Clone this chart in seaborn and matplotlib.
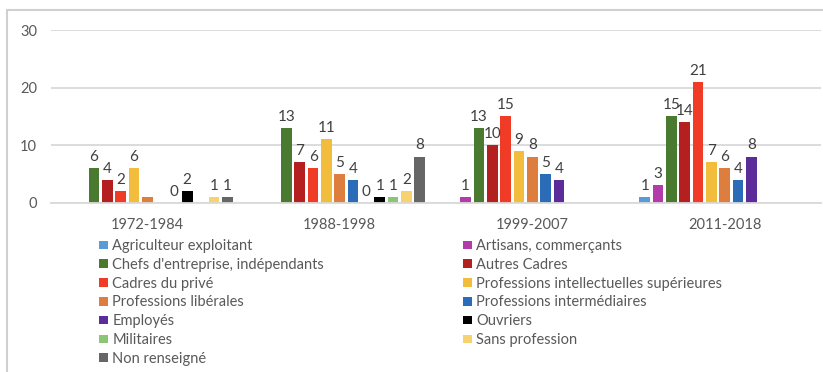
import numpy as np
import pandas as pd
import matplotlib
matplotlib.use("Agg")
import matplotlib.pyplot as plt
from matplotlib.patches import Patch, Rectangle
import seaborn as sns

nan = np.nan
categories = ["1972-1984", "1988-1998", "1999-2007", "2011-2018"]
series = [
    "Agriculteur exploitant",
    "Artisans, commerçants",
    "Chefs d'entreprise, indépendants",
    "Autres Cadres",
    "Cadres du privé",
    "Professions intellectuelles supérieures",
    "Professions libérales",
    "Professions intermédiaires",
    "Employés",
    "Ouvriers",
    "Militaires",
    "Sans profession",
    "Non renseigné",
]
agriculteur = [nan, nan, nan, 1]
artisans = [nan, nan, 1, 3]
chefs = [6, 13, 13, 15]
autres_cadres = [4, 7, 10, 14]
cadres_prive = [2, 6, 15, 21]
prof_intel = [6, 11, 9, 7]
prof_lib = [1, 5, 8, 6]
prof_interm = [nan, 4, 5, 4]
employes = [0, 0, 4, 8]
ouvriers = [2, 1, nan, nan]
militaires = [nan, 1, nan, nan]
sans_prof = [1, 2, nan, nan]
non_renseigne = [1, 8, nan, nan]
values = [agriculteur, artisans, chefs, autres_cadres, cadres_prive, prof_intel,
          prof_lib, prof_interm, employes, ouvriers, militaires, sans_prof, non_renseigne]
hidden_labels = [("Professions libérales", "1972-1984")]

colors = ["#5B9BD5", "#B23DAA", "#4A7A2F", "#B41F1F", "#F03B26", "#F2BD3C",
          "#DE7E3E", "#2A6CB8", "#5B2C9A", "#000000", "#8CC576", "#F6D270", "#666666"]

rows = []
for s, vals in zip(series, values):
    for c, v in zip(categories, vals):
        rows.append({"period": c, "category": s, "value": v})
df = pd.DataFrame(rows).dropna()

sns.set_style("white")
plt.rcParams["font.family"] = ["Lato", "DejaVu Sans"]

fig = plt.figure(figsize=(8.23, 3.72), dpi=100)
ax = fig.add_axes([51 / 823, 1 - 202.7 / 372, 770 / 823, (202.7 - 30) / 372])

sns.barplot(data=df, x="period", y="value", hue="category", hue_order=series,
            order=categories, palette=colors, saturation=1, width=0.9, gap=0.2,
            errorbar=None, linewidth=0, legend=False, ax=ax)

ax.set_xlim(-0.5, 3.5)
ax.set_ylim(0, 30)
ax.set_yticks([0, 10, 20, 30])
ax.set_xlabel("")
ax.set_ylabel("")
ax.grid(axis="y", color="#D9D9D9", linewidth=1.3)
ax.grid(axis="x", visible=False)
ax.set_axisbelow(True)
for side in ["top", "right", "left"]:
    ax.spines[side].set_visible(False)
ax.spines["bottom"].set_color("#D9D9D9")
ax.spines["bottom"].set_linewidth(1.3)
ax.tick_params(axis="x", length=0, pad=11, labelsize=10.5, labelcolor="#595959")
ax.tick_params(axis="y", length=0, pad=10, labelsize=10.5, labelcolor="#595959")

color_to_series = {matplotlib.colors.to_hex(c): s for c, s in zip(colors, series)}
for cont in ax.containers:
    labels = []
    for bar in cont:
        s = color_to_series.get(matplotlib.colors.to_hex(bar.get_facecolor()[:3]), "")
        ci = int(round(bar.get_x() + bar.get_width() / 2))
        cat = categories[ci] if 0 <= ci < len(categories) else ""
        h = bar.get_height()
        if (s, cat) in hidden_labels or np.isnan(h):
            labels.append("")
        else:
            labels.append(f"{h:.0f}")
    ax.bar_label(cont, labels=labels, padding=3, fontsize=11, color="#404040")

handles = [Patch(facecolor=c, edgecolor="none") for c in colors]
left_idx = list(range(0, len(series), 2))
right_idx = list(range(1, len(series), 2))
common = dict(frameon=False, loc="upper left", borderpad=0, borderaxespad=0,
              handlelength=0.65, handleheight=0.52, handletextpad=0.25,
              labelspacing=0.33, prop={"size": 10.5}, labelcolor="#595959")
leg1 = fig.legend([handles[i] for i in left_idx], [series[i] for i in left_idx],
                  bbox_to_anchor=(99 / 823, 1 - 239 / 372), **common)
leg2 = fig.legend([handles[i] for i in right_idx], [series[i] for i in right_idx],
                  bbox_to_anchor=(463 / 823, 1 - 239 / 372), **common)

fig.patches.append(Rectangle((7.5 / 823, -0.1), 1.2, 1.1 - 10 / 372, transform=fig.transFigure,
                             fill=False, edgecolor="#D0D0D0", linewidth=1.5))

fig.savefig("out.png", dpi=100, facecolor="white")
